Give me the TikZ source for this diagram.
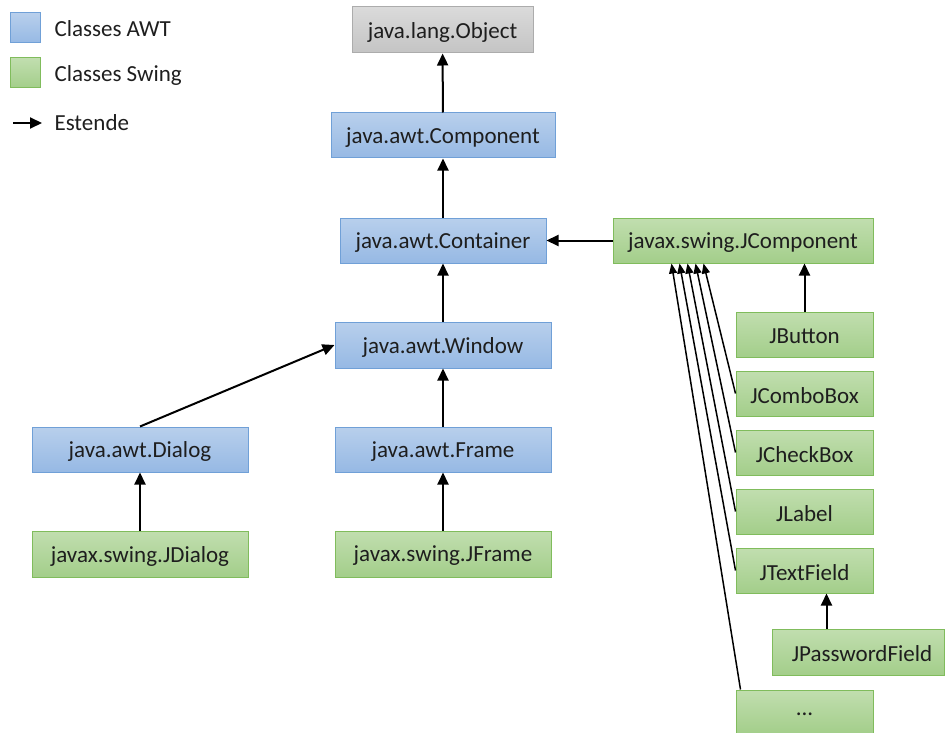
\documentclass[tikz,border=0pt]{standalone}
\usepackage{fontspec}
\setmainfont{Carlito}
\usetikzlibrary{arrows.meta,calc}
\definecolor{awttop}{RGB}{184,207,236}
\definecolor{awtbot}{RGB}{150,185,228}
\definecolor{awtline}{RGB}{112,160,215}
\definecolor{swtop}{RGB}{193,222,175}
\definecolor{swbot}{RGB}{163,206,138}
\definecolor{swline}{RGB}{128,188,92}
\definecolor{objtop}{RGB}{218,218,218}
\definecolor{objbot}{RGB}{196,196,196}
\definecolor{objline}{RGB}{172,172,172}
\definecolor{txt}{RGB}{30,30,30}
\tikzset{
  box/.style={rectangle, inner sep=0pt, line width=1pt, text=txt, font=\fontsize{23}{27}\selectfont},
  awt/.style={box, draw=awtline, top color=awttop, bottom color=awtbot},
  swing/.style={box, draw=swline, top color=swtop, bottom color=swbot},
  obj/.style={box, draw=objline, top color=objtop, bottom color=objbot},
  ext/.style={-{Triangle[length=12pt,width=11pt]}, line width=2pt, black},
  fan/.style={-{Triangle[length=10pt,width=8pt]}, line width=1.5pt, black},
  legtext/.style={anchor=west, text=txt, font=\fontsize{23}{27}\selectfont}
}
\newcommand{\lbl}[1]{\raisebox{-2pt}[\height][\depth]{#1}}
\begin{document}
\begin{tikzpicture}[x=1pt,y=-1pt]
\useasboundingbox (0,0) rectangle (945,733);
% legend
\node[awt, minimum width=30pt, minimum height=30pt] (legawt) at (25,28) {};
\node[legtext] (legawtt) at (51,29) {Classes AWT};
\node[swing, minimum width=30pt, minimum height=30pt] (legsw) at (25,73) {};
\node[legtext] (legswt) at (51,75) {Classes Swing};
\coordinate (la) at (13,123);
\coordinate (lb) at (42,123);
\draw[ext] (la) -- (lb);
\node[legtext] (legext) at (51,123) {Estende};
% nodes
\node[obj, minimum width=181pt, minimum height=46pt] (obj) at (442.5,30) {\lbl{java.lang.Object}};
\node[awt, minimum width=224pt, minimum height=45pt] (comp) at (443,135.5) {\lbl{java.awt.Component}};
\node[awt, minimum width=206pt, minimum height=45pt] (cont) at (443,240.5) {\lbl{java.awt.Container}};
\node[swing, minimum width=260pt, minimum height=45pt] (jcomp) at (743,240.5) {\lbl{javax.swing.JComponent}};
\node[awt, minimum width=216pt, minimum height=46pt] (win) at (443,345) {\lbl{java.awt.Window}};
\node[awt, minimum width=216pt, minimum height=45pt] (dlg) at (140,449.5) {\lbl{java.awt.Dialog}};
\node[awt, minimum width=216pt, minimum height=45pt] (frm) at (443,449.5) {\lbl{java.awt.Frame}};
\node[swing, minimum width=216pt, minimum height=46pt] (jdlg) at (140,554) {\lbl{javax.swing.JDialog}};
\node[swing, minimum width=216pt, minimum height=46pt] (jfrm) at (443,554) {\lbl{javax.swing.JFrame}};
\node[swing, minimum width=137pt, minimum height=45pt] (jbtn) at (804.5,334.5) {\lbl{JButton}};
\node[swing, minimum width=137pt, minimum height=45pt] (jcombo) at (804.5,393.5) {\lbl{JComboBox}};
\node[swing, minimum width=137pt, minimum height=45pt] (jcheck) at (804.5,452.5) {\lbl{JCheckBox}};
\node[swing, minimum width=137pt, minimum height=45pt] (jlabel) at (804.5,511.5) {\lbl{JLabel}};
\node[swing, minimum width=137pt, minimum height=45pt] (jtext) at (804.5,570.5) {\lbl{JTextField}};
\node[swing, minimum width=172pt, minimum height=46pt] (jpass) at (858,652) {\hspace*{8pt}\lbl{JPasswordField}};
\node[swing, minimum width=137pt, minimum height=44pt] (dots) at (804.5,712) {\lbl{...}};
% connectors
\draw[ext] (comp) -- (obj);
\draw[ext] (cont) -- (comp);
\draw[ext] (win) -- (cont);
\draw[ext] (frm) -- (win);
\draw[ext] (jfrm) -- (frm);
\draw[ext] (jdlg) -- (dlg);
\draw[ext] (dlg.north) -- (win.west);
\draw[ext] (jcomp.west) -- (cont.east);
\draw[ext] (jbtn) -- (jcomp.south -| jbtn);
\draw[ext] (jpass.north -| jtext.south east) ++(-47,0) coordinate (pp) -- (pp |- jtext.south);
\coordinate (t1) at ($(jcomp.south west)+(91,0)$);
\coordinate (t2) at ($(jcomp.south west)+(83,0)$);
\coordinate (t3) at ($(jcomp.south west)+(75,0)$);
\coordinate (t4) at ($(jcomp.south west)+(67,0)$);
\coordinate (t5) at ($(jcomp.south west)+(59,0)$);
\coordinate (ds) at ($(dots.north west)+(5,0)$);
\draw[fan] (jcombo.west) -- (t1);
\draw[fan] (jcheck.west) -- (t2);
\draw[fan] (jlabel.west) -- (t3);
\draw[fan] (jtext.west) -- (t4);
\draw[fan] (ds) -- (t5);
\end{tikzpicture}
\end{document}
